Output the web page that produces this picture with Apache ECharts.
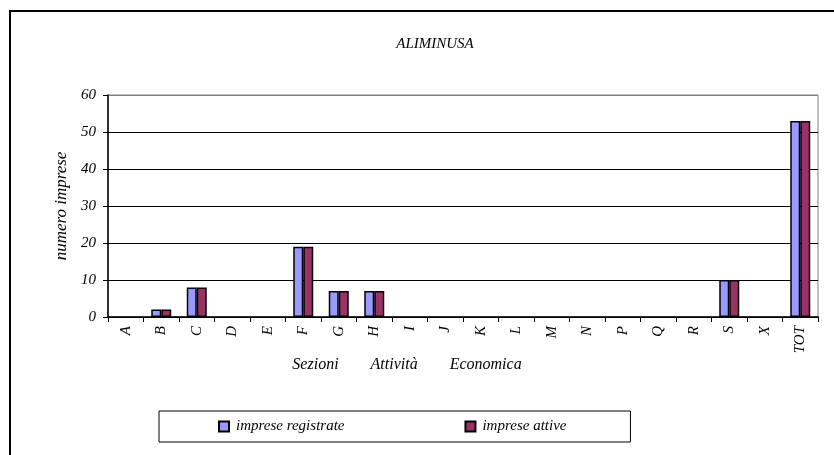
<!DOCTYPE html>
<html>
<head>
<meta charset="utf-8">
<script src="https://cdn.jsdelivr.net/npm/echarts@6/dist/echarts.min.js"></script>
<style>
html,body{margin:0;padding:0;background:#fff;}
#chart{width:834px;height:455px;}
</style>
</head>
<body>
<div id="chart"></div>
<script>
var titleText = 'ALIMINUSA';
var categories = ['A','B','C','D','E','F','G','H','I','J','K','L','M','N','P','Q','R','S','X','TOT'];
var registrate = [0,2,8,0,0,19,7,7,0,0,0,0,0,0,0,0,0,10,0,53];
var attive = [0,2,8,0,0,19,7,7,0,0,0,0,0,0,0,0,0,10,0,53];
var seriesNames = ['imprese registrate','imprese attive'];
var yAxisName = 'numero imprese';
var xAxisName = 'Sezioni        Attività        Economica';

function toBarData(arr) {
  return arr.map(function (v) {
    return v === 0 ? {value: 0, itemStyle: {borderWidth: 0}} : v;
  });
}

var font = 'Liberation Serif';
var chart = echarts.init(document.getElementById('chart'));
chart.setOption({
  animation: false,
  backgroundColor: '#fff',
  title: {
    text: titleText, left: 430, top: 32, textAlign: 'center',
    textStyle: {fontFamily: font, fontStyle: 'italic', fontWeight: 'normal', fontSize: 15, color: '#000'}
  },
  graphic: [{
    type: 'polyline', silent: true,
    shape: {points: [[10, 460], [10, 11], [840, 11]]},
    style: {stroke: '#000', lineWidth: 2, fill: null}
  }],
  legend: {
    left: 159, top: 411,
    padding: [8, 64, 8, 59],
    borderColor: '#000', borderWidth: 1,
    itemWidth: 10, itemHeight: 10, itemGap: 120,
    icon: 'rect',
    textStyle: {fontFamily: font, fontStyle: 'italic', fontSize: 15, color: '#000', padding: [0, 0, 0, 2]},
    data: seriesNames
  },
  grid: {left: 108, right: 16, top: 95, bottom: 138, show: true, borderColor: '#808080', borderWidth: 1, containLabel: false},
  xAxis: {
    type: 'category', data: categories,
    axisLine: {lineStyle: {color: '#000', width: 1.5}},
    axisTick: {show: true, length: 5, interval: 0, lineStyle: {color: '#000'}},
    axisLabel: {rotate: 90, interval: 0, margin: 9, fontFamily: font, fontStyle: 'italic', fontSize: 15, color: '#000'},
    name: xAxisName, nameLocation: 'middle', nameGap: 34,
    nameTextStyle: {fontFamily: font, fontStyle: 'italic', fontSize: 16, color: '#000', padding: [0, 112, 0, 0]}
  },
  yAxis: {
    type: 'value', min: 0, max: 60, interval: 10,
    axisLine: {show: true, lineStyle: {color: '#000', width: 1.5}},
    axisTick: {show: true, length: 5, lineStyle: {color: '#000'}},
    axisLabel: {margin: 12, fontFamily: font, fontStyle: 'italic', fontSize: 15, color: '#000'},
    splitLine: {show: true, lineStyle: {color: ['#000','#000','#000','#000','#000','#000','#808080'], width: 1}},
    name: yAxisName, nameLocation: 'middle', nameGap: 28, nameRotate: 90,
    nameTextStyle: {fontFamily: font, fontStyle: 'italic', fontSize: 17, color: '#000'}
  },
  series: [
    {name: seriesNames[0], type: 'bar', data: toBarData(registrate), barWidth: 10, barGap: '0%',
     itemStyle: {color: '#9999FF', borderColor: '#000', borderWidth: 1.5}},
    {name: seriesNames[1], type: 'bar', data: toBarData(attive), barWidth: 10, barGap: '0%',
     itemStyle: {color: '#993366', borderColor: '#000', borderWidth: 1.5}}
  ]
});
</script>
</body>
</html>
